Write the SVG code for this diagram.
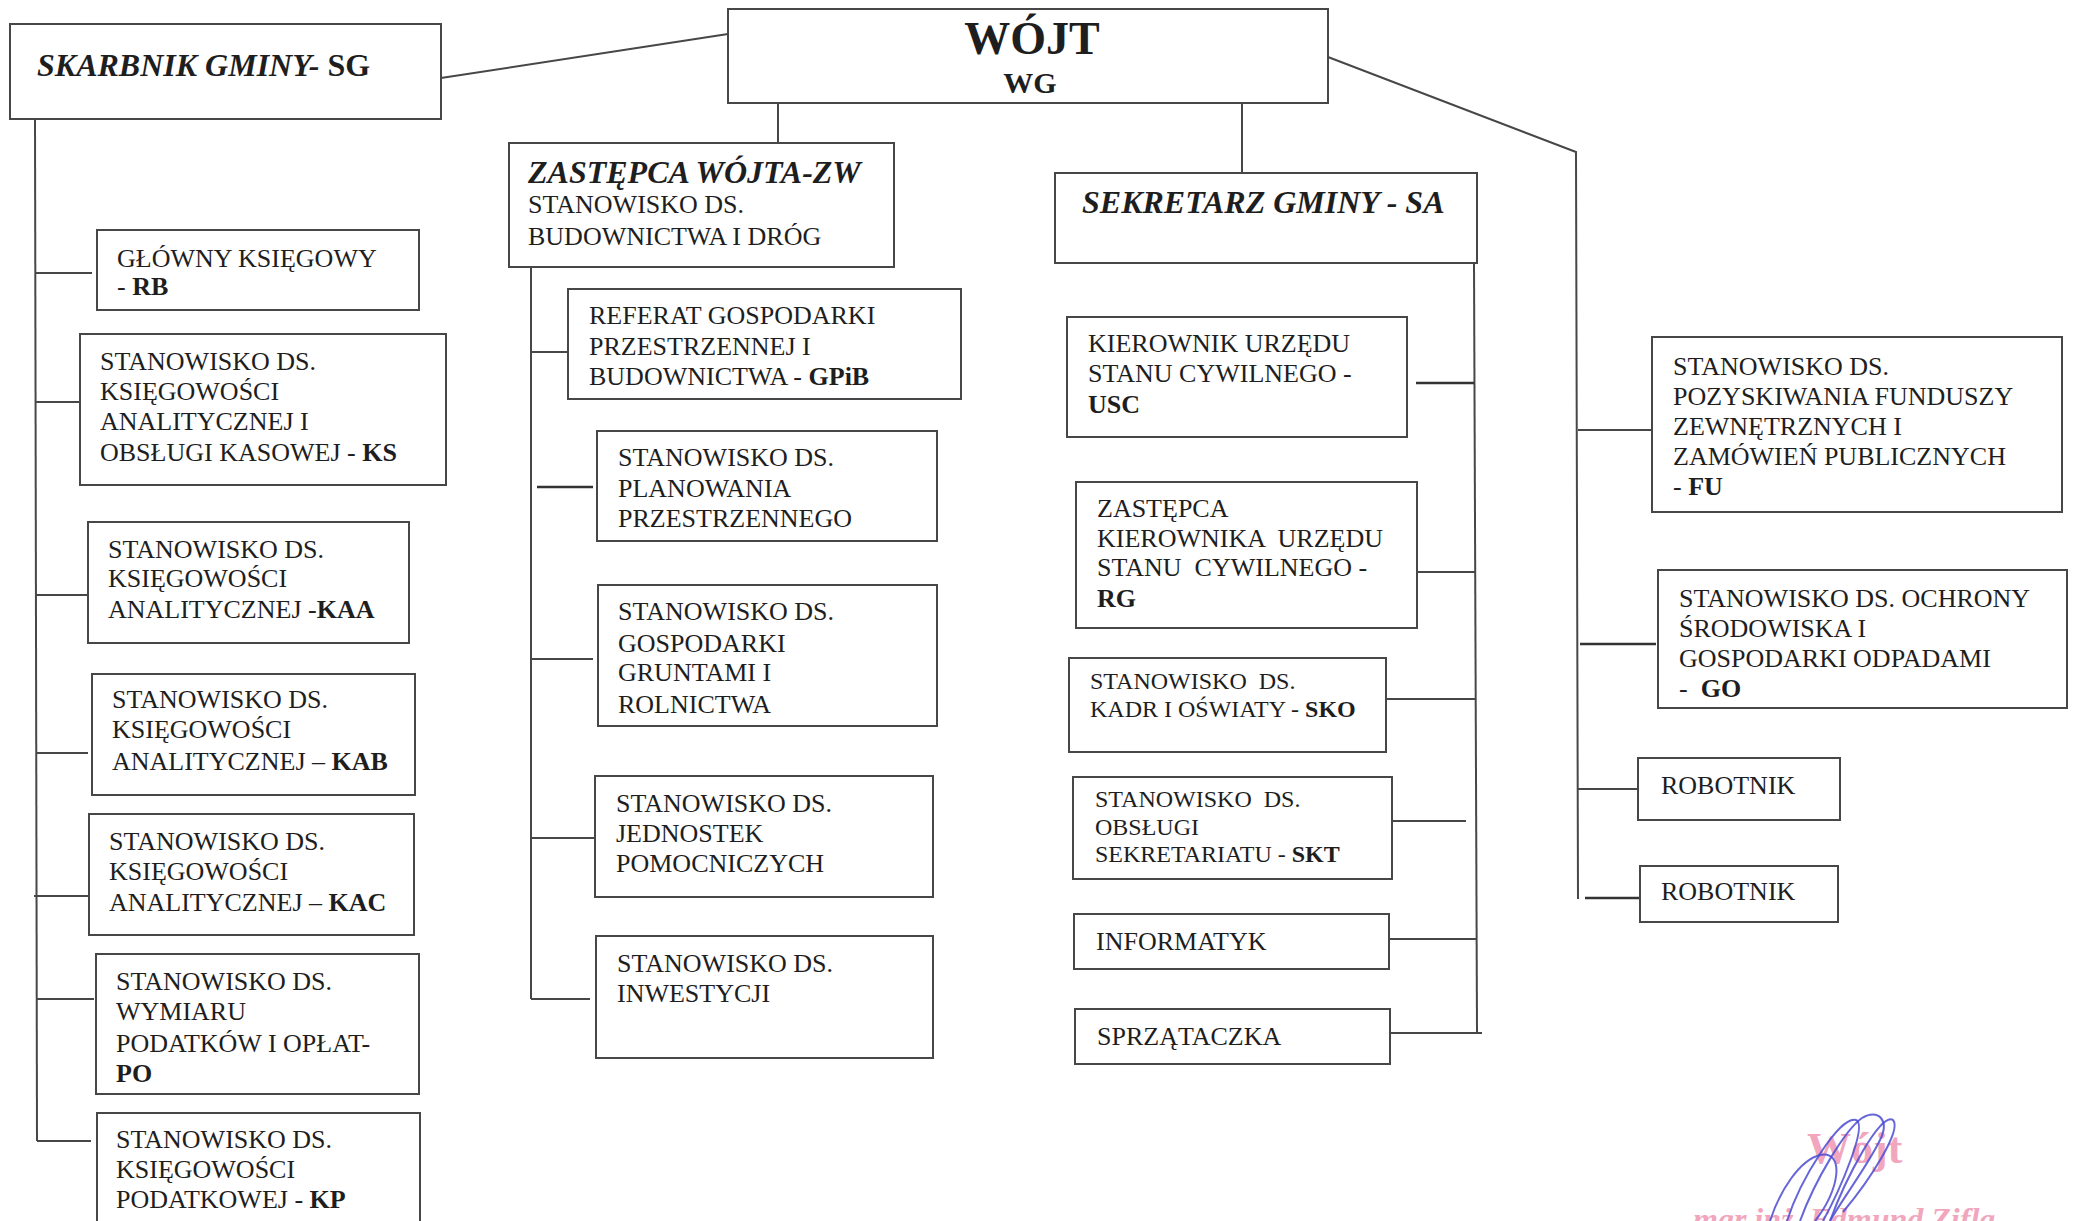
<svg xmlns="http://www.w3.org/2000/svg" width="2074" height="1221" viewBox="0 0 2074 1221">
<style>
.box{fill:#fff;stroke:#474747;stroke-width:2}
.ln{stroke:#474747;stroke-width:2;fill:none}
.lnb{stroke:#333;stroke-width:2.6;fill:none}
text{font-family:"Liberation Serif","Times New Roman",serif;font-size:26px;fill:#1e1e1e}
.s{font-size:24px}
.h{font-weight:bold;font-style:italic;font-size:32px}
.b{font-weight:bold;font-style:normal}
.sig{stroke:#4b4bd2;stroke-width:2;fill:none;opacity:0.85}
.stamp{fill:#f2a6bd;font-weight:bold}
</style>
<rect width="2074" height="1221" fill="#fff"/>

<g id="connectors">
  <line class="ln" x1="441" y1="78" x2="728" y2="34"/>
  <line class="ln" x1="778" y1="103" x2="778" y2="143"/>
  <line class="ln" x1="1242" y1="103" x2="1242" y2="173"/>
  <polyline class="ln" points="1328,57 1576,152 1578,899"/>
  <line class="ln" x1="35" y1="119" x2="37" y2="1141"/>
  <line class="ln" x1="35" y1="273" x2="92" y2="273"/>
  <line class="ln" x1="35" y1="402" x2="80" y2="402"/>
  <line class="ln" x1="36" y1="595" x2="88" y2="595"/>
  <line class="ln" x1="36" y1="753" x2="88" y2="753"/>
  <line class="ln" x1="34" y1="896" x2="89" y2="896"/>
  <line class="ln" x1="37" y1="999" x2="94" y2="999"/>
  <line class="ln" x1="37" y1="1141" x2="91" y2="1141"/>
  <line class="ln" x1="531" y1="267" x2="531" y2="999"/>
  <line class="ln" x1="531" y1="352" x2="568" y2="352"/>
  <line class="lnb" x1="537" y1="487" x2="593" y2="487"/>
  <line class="ln" x1="531" y1="659" x2="593" y2="659"/>
  <line class="ln" x1="531" y1="838" x2="594" y2="838"/>
  <line class="ln" x1="531" y1="999" x2="590" y2="999"/>
  <line class="ln" x1="1474" y1="263" x2="1477" y2="1033"/>
  <line class="lnb" x1="1416" y1="383" x2="1474" y2="383"/>
  <line class="ln" x1="1417" y1="572" x2="1475" y2="572"/>
  <line class="ln" x1="1386" y1="699" x2="1475" y2="699"/>
  <line class="ln" x1="1392" y1="821" x2="1466" y2="821"/>
  <line class="ln" x1="1389" y1="939" x2="1477" y2="939"/>
  <line class="ln" x1="1390" y1="1033" x2="1482" y2="1033"/>
  <line class="ln" x1="1578" y1="430" x2="1656" y2="430"/>
  <line class="lnb" x1="1580" y1="644" x2="1656" y2="644"/>
  <line class="ln" x1="1578" y1="789" x2="1638" y2="789"/>
  <line class="lnb" x1="1585" y1="898" x2="1639" y2="898"/>
</g>

<g id="wojt">
  <rect class="box" x="728" y="9" width="600" height="94"/>
  <text x="1032" y="54" text-anchor="middle" style="font-size:46px;font-weight:bold">WÓJT</text>
  <text x="1030" y="93" text-anchor="middle" style="font-size:30px;font-weight:bold">WG</text>
</g>

<g id="sg">
  <rect class="box" x="10" y="24" width="431" height="95"/>
  <text x="37" y="76" class="h">SKARBNIK GMINY-<tspan class="b"> SG</tspan></text>
</g>

<g id="rb">
  <rect class="box" x="97" y="230" width="322" height="80"/>
  <text x="117" y="267">GŁÓWNY KSIĘGOWY</text>
  <text x="117" y="295">- <tspan class="b">RB</tspan></text>
</g>
<g id="ks">
  <rect class="box" x="80" y="334" width="366" height="151"/>
  <text x="100" y="370">STANOWISKO DS.</text>
  <text x="100" y="400">KSIĘGOWOŚCI</text>
  <text x="100" y="430">ANALITYCZNEJ I</text>
  <text x="100" y="461">OBSŁUGI KASOWEJ - <tspan class="b">KS</tspan></text>
</g>
<g id="kaa">
  <rect class="box" x="88" y="522" width="321" height="121"/>
  <text x="108" y="558">STANOWISKO DS.</text>
  <text x="108" y="587">KSIĘGOWOŚCI</text>
  <text x="108" y="618">ANALITYCZNEJ -<tspan class="b">KAA</tspan></text>
</g>
<g id="kab">
  <rect class="box" x="92" y="674" width="323" height="121"/>
  <text x="112" y="708">STANOWISKO DS.</text>
  <text x="112" y="738">KSIĘGOWOŚCI</text>
  <text x="112" y="770">ANALITYCZNEJ – <tspan class="b">KAB</tspan></text>
</g>
<g id="kac">
  <rect class="box" x="89" y="814" width="325" height="121"/>
  <text x="109" y="850">STANOWISKO DS.</text>
  <text x="109" y="880">KSIĘGOWOŚCI</text>
  <text x="109" y="911">ANALITYCZNEJ – <tspan class="b">KAC</tspan></text>
</g>
<g id="po">
  <rect class="box" x="96" y="954" width="323" height="140"/>
  <text x="116" y="990">STANOWISKO DS.</text>
  <text x="116" y="1020">WYMIARU</text>
  <text x="116" y="1052">PODATKÓW I OPŁAT-</text>
  <text x="116" y="1082" class="b">PO</text>
</g>
<g id="kp">
  <rect class="box" x="97" y="1113" width="323" height="120"/>
  <text x="116" y="1148">STANOWISKO DS.</text>
  <text x="116" y="1178">KSIĘGOWOŚCI</text>
  <text x="116" y="1208">PODATKOWEJ - <tspan class="b">KP</tspan></text>
</g>

<g id="zw">
  <rect class="box" x="509" y="143" width="385" height="124"/>
  <text x="528" y="183" class="h">ZASTĘPCA WÓJTA-ZW</text>
  <text x="528" y="213">STANOWISKO DS.</text>
  <text x="528" y="245">BUDOWNICTWA I DRÓG</text>
</g>
<g id="gpib">
  <rect class="box" x="568" y="289" width="393" height="110"/>
  <text x="589" y="324">REFERAT GOSPODARKI</text>
  <text x="589" y="355">PRZESTRZENNEJ I</text>
  <text x="589" y="385">BUDOWNICTWA - <tspan class="b">GPiB</tspan></text>
</g>
<g id="plan">
  <rect class="box" x="597" y="431" width="340" height="110"/>
  <text x="618" y="466">STANOWISKO DS.</text>
  <text x="618" y="497">PLANOWANIA</text>
  <text x="618" y="527">PRZESTRZENNEGO</text>
</g>
<g id="grunt">
  <rect class="box" x="598" y="585" width="339" height="141"/>
  <text x="618" y="620">STANOWISKO DS.</text>
  <text x="618" y="652">GOSPODARKI</text>
  <text x="618" y="681">GRUNTAMI I</text>
  <text x="618" y="713">ROLNICTWA</text>
</g>
<g id="jedn">
  <rect class="box" x="595" y="776" width="338" height="121"/>
  <text x="616" y="812">STANOWISKO DS.</text>
  <text x="616" y="842">JEDNOSTEK</text>
  <text x="616" y="872">POMOCNICZYCH</text>
</g>
<g id="inw">
  <rect class="box" x="596" y="936" width="337" height="122"/>
  <text x="617" y="972">STANOWISKO DS.</text>
  <text x="617" y="1002">INWESTYCJI</text>
</g>

<g id="sa">
  <rect class="box" x="1055" y="173" width="422" height="90"/>
  <text x="1082" y="213" class="h">SEKRETARZ GMINY - SA</text>
</g>
<g id="usc">
  <rect class="box" x="1067" y="317" width="340" height="120"/>
  <text x="1088" y="352">KIEROWNIK URZĘDU</text>
  <text x="1088" y="382">STANU CYWILNEGO -</text>
  <text x="1088" y="413" class="b">USC</text>
</g>
<g id="rg">
  <rect class="box" x="1076" y="482" width="341" height="146"/>
  <text x="1097" y="517">ZASTĘPCA</text>
  <text x="1097" y="547" xml:space="preserve">KIEROWNIKA  URZĘDU</text>
  <text x="1097" y="576" xml:space="preserve">STANU  CYWILNEGO -</text>
  <text x="1097" y="607" class="b">RG</text>
</g>
<g id="sko">
  <rect class="box" x="1069" y="658" width="317" height="94"/>
  <text x="1090" y="689" class="s" xml:space="preserve">STANOWISKO  DS.</text>
  <text x="1090" y="717" class="s">KADR I OŚWIATY - <tspan class="b">SKO</tspan></text>
</g>
<g id="skt">
  <rect class="box" x="1073" y="777" width="319" height="102"/>
  <text x="1095" y="807" class="s" xml:space="preserve">STANOWISKO  DS.</text>
  <text x="1095" y="835" class="s">OBSŁUGI</text>
  <text x="1095" y="862" class="s">SEKRETARIATU - <tspan class="b">SKT</tspan></text>
</g>
<g id="info">
  <rect class="box" x="1074" y="914" width="315" height="55"/>
  <text x="1096" y="950">INFORMATYK</text>
</g>
<g id="sprz">
  <rect class="box" x="1075" y="1009" width="315" height="55"/>
  <text x="1097" y="1045">SPRZĄTACZKA</text>
</g>

<g id="fu">
  <rect class="box" x="1652" y="337" width="410" height="175"/>
  <text x="1673" y="375">STANOWISKO DS.</text>
  <text x="1673" y="405">POZYSKIWANIA FUNDUSZY</text>
  <text x="1673" y="435">ZEWNĘTRZNYCH I</text>
  <text x="1673" y="465">ZAMÓWIEŃ PUBLICZNYCH</text>
  <text x="1673" y="495">- <tspan class="b">FU</tspan></text>
</g>
<g id="go">
  <rect class="box" x="1658" y="570" width="409" height="138"/>
  <text x="1679" y="607">STANOWISKO DS. OCHRONY</text>
  <text x="1679" y="637">ŚRODOWISKA I</text>
  <text x="1679" y="667">GOSPODARKI ODPADAMI</text>
  <text x="1679" y="697" xml:space="preserve">-  <tspan class="b">GO</tspan></text>
</g>
<g id="rob1">
  <rect class="box" x="1638" y="758" width="202" height="62"/>
  <text x="1661" y="794">ROBOTNIK</text>
</g>
<g id="rob2">
  <rect class="box" x="1640" y="866" width="198" height="56"/>
  <text x="1661" y="900">ROBOTNIK</text>
</g>

<g id="stamp">
  <text x="1807" y="1163" class="stamp" style="font-size:44px">Wójt</text>
  <text x="1693" y="1230" class="stamp" style="font-size:32px;font-style:italic">mgr inż. Edmund Zifla</text>
  <path class="sig" d="M1787,1221 C1800,1180 1840,1115 1856,1120 C1868,1125 1840,1190 1823,1221"/>
  <path class="sig" d="M1830,1221 C1845,1180 1880,1112 1893,1120 C1902,1130 1870,1180 1843,1212"/>
  <path class="sig" d="M1770,1221 C1780,1190 1800,1160 1820,1155 C1845,1150 1840,1190 1815,1221"/>
  <path class="sig" d="M1800,1221 C1815,1180 1845,1130 1862,1118 C1878,1108 1890,1120 1880,1140 C1868,1165 1845,1195 1830,1221"/>
</g>
</svg>
